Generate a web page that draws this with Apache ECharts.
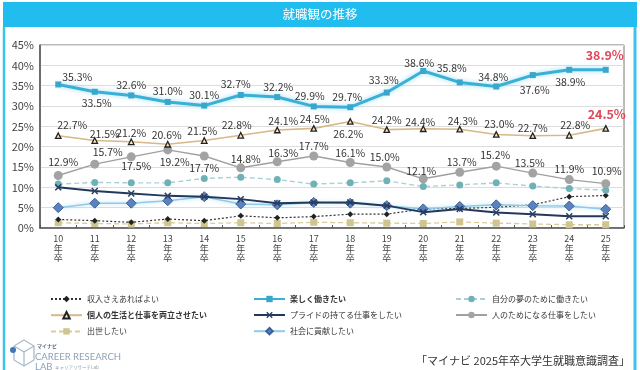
<!DOCTYPE html>
<html><head><meta charset="utf-8">
<script src="https://cdn.jsdelivr.net/npm/echarts@6/dist/echarts.min.js"></script>
<style>html,body{margin:0;padding:0;background:#fff}#c{width:640px;height:370px}</style>
</head><body><div id="c"></div>
<script>
const categories = ['10','11','12','13','14','15','16','17','18','19','20','21','22','23','24','25'];
const enjoy     = [35.3,33.5,32.6,31.0,30.1,32.7,32.2,29.9,29.7,33.3,38.6,35.8,34.8,37.6,38.9,38.9];
const balance   = [22.7,21.5,21.2,20.6,21.5,22.8,24.1,24.5,26.2,24.2,24.4,24.3,23.0,22.7,22.8,24.5];
const forOthers = [12.9,15.7,17.5,19.2,17.7,14.8,16.3,17.7,16.1,15.0,12.1,13.7,15.2,13.5,11.9,10.9];
const dream     = [10.8,11.2,11.1,11.1,12.2,12.5,11.9,10.8,11.1,11.6,10.2,10.6,11.1,10.3,9.7,9.3];
const pride     = [10.0,9.1,8.5,7.9,7.7,7.1,6.1,6.3,6.3,5.5,3.9,4.7,3.8,3.4,2.9,2.9];
const society   = [5.0,6.1,6.1,6.7,7.7,5.9,5.7,6.3,6.1,5.5,4.7,5.3,5.7,5.5,5.4,4.6];
const income    = [2.1,1.8,1.4,2.2,1.8,3.0,2.5,2.8,3.4,3.4,4.7,4.8,5.1,5.7,7.7,8.0];
const promotion = [1.3,1.1,1.0,1.3,1.1,1.3,1.1,1.4,1.3,1.2,1.1,1.5,1.2,1.0,0.8,0.8];
const yTicks = [0,5,10,15,20,25,30,35,40,45];

// label offsets (style only)
const enjoyOff = [[19,-7],[2,11],[0,-10],[0,-11],[0,-11],[-5,-11],[1,-10],[-4,-10],[-3,-10],[-3,-13],[-4,-8],[-8,-14],[-3,-9],[2,15],[1,12],[-1,-15]];
const balanceOff = [[14,-11],[10,-7],[0,-9],[-1,-9],[-2,-10],[-4,-10],[6,-9],[1,-9],[-2,13],[0,-10],[-3,-7],[3,-8],[3,-10],[0,-8],[6,-10],[1,-14]];
const othersOff = [[5,-14],[13,-12],[5,9],[7,12],[0,12],[5,-9],[6,-9],[0,-10],[0,-10],[-2,-10],[-2,-8],[2,-10],[-1,-11],[-3,-10],[0,-11],[1,-13]];

const FONT = "'Noto Sans CJK JP', sans-serif";
function labeled(vals, offs, redLast) {
  return vals.map((v, i) => {
    const hl = redLast && i === vals.length - 1;
    return {
      value: v,
      label: {
        show: true, position: 'inside', offset: offs[i],
        formatter: v.toFixed(1) + '%',
        fontSize: hl ? 12.5 : 10.5, fontWeight: hl ? 'bold' : 'normal',
        color: hl ? '#E0475A' : '#333', fontFamily: FONT
      }
    };
  });
}
const xPath = 'path://M0,1.5L1.5,0L5,3.5L8.5,0L10,1.5L6.5,5L10,8.5L8.5,10L5,6.5L1.5,10L0,8.5L3.5,5Z';

const chart = echarts.init(document.getElementById('c'), null, {renderer: 'canvas'});
chart.setOption({
  animation: false,
  textStyle: {fontFamily: FONT},
  graphic: [
    {type: 'rect', shape: {x: 3, y: 2, width: 634, height: 25}, style: {fill: '#21BDEE'}, z: 0},
    {type: 'text', style: {text: '就職観の推移', x: 320, y: 14.5, textAlign: 'center', textVerticalAlign: 'middle', fill: '#fff', fontSize: 12.5, fontFamily: FONT}},
    {type: 'line', shape: {x1: 4, y1: 27, x2: 4, y2: 370}, style: {stroke: '#3EC3EE', lineWidth: 2.5}},
    {type: 'line', shape: {x1: 635, y1: 27, x2: 635, y2: 370}, style: {stroke: '#3EC3EE', lineWidth: 3}},
    {type: 'text', style: {text: '「マイナビ 2025年卒大学生就職意識調査」', x: 630, y: 361, textAlign: 'right', textVerticalAlign: 'middle', fill: '#333', fontSize: 11, fontFamily: FONT}},
    // logo
    {type: 'polygon', shape: {points: [[24,340],[34,346],[34,360],[24,366],[14,360],[14,346]]}, style: {fill: 'none', stroke: '#A9BCCD', lineWidth: 1.3}},
    {type: 'polyline', shape: {points: [[14,346],[24,352],[34,346]]}, style: {fill: 'none', stroke: '#A9BCCD', lineWidth: 1.3}},
    {type: 'line', shape: {x1: 24, y1: 352, x2: 24, y2: 366}, style: {stroke: '#A9BCCD', lineWidth: 1.3}},
    {type: 'circle', shape: {cx: 13, cy: 350, r: 3}, style: {fill: '#3F78B4'}},
    {type: 'text', style: {text: 'マイナビ', x: 37, y: 346, textVerticalAlign: 'middle', fill: '#5A6B80', fontSize: 5, fontWeight: 'bold', fontFamily: FONT}},
    {type: 'text', style: {text: 'CAREER RESEARCH', x: 35, y: 357, textVerticalAlign: 'middle', fill: '#8FA2B7', fontSize: 9.5, fontFamily: 'Lato, sans-serif'}},
    {type: 'text', style: {text: 'LAB', x: 35, y: 367, textVerticalAlign: 'middle', fill: '#8FA2B7', fontSize: 9.5, fontFamily: 'Lato, sans-serif'}},
    {type: 'text', style: {text: 'キャリアリサーチLab', x: 55, y: 367, textVerticalAlign: 'middle', fill: '#8FA2B7', fontSize: 4.5, fontFamily: FONT}}
  ],
  grid: {left: 40, right: 16, top: 45, bottom: 142, show: true, borderColor: '#777', borderWidth: 1},
  legend: [
    {left: 45, top: 290, orient: 'vertical', itemWidth: 31, itemHeight: 8, itemGap: 8,
     textStyle: {fontSize: 8, color: '#333', fontFamily: FONT},
     data: ['収入さえあればよい', {name: '個人の生活と仕事を両立させたい', textStyle: {fontWeight: 'bold'}}, '出世したい']},
    {left: 248, top: 290, orient: 'vertical', itemWidth: 31, itemHeight: 8, itemGap: 8,
     textStyle: {fontSize: 8, color: '#333', fontFamily: FONT},
     data: [{name: '楽しく働きたい', textStyle: {fontWeight: 'bold'}}, 'プライドの持てる仕事をしたい', '社会に貢献したい']},
    {left: 450, top: 290, orient: 'vertical', itemWidth: 31, itemHeight: 8, itemGap: 8,
     textStyle: {fontSize: 8, color: '#333', fontFamily: FONT},
     data: ['自分の夢のために働きたい', '人のためになる仕事をしたい']}
  ],
  xAxis: {
    type: 'category', data: categories, boundaryGap: true,
    axisLine: {lineStyle: {color: '#555', width: 1.5}},
    axisTick: {show: true, inside: true, length: 3, lineStyle: {color: '#555'}},
    axisLabel: {formatter: v => v + '\n年\n卒', fontSize: 9, lineHeight: 9.5, color: '#444', margin: 6, fontFamily: FONT}
  },
  yAxis: {
    type: 'value', min: yTicks[0], max: yTicks[yTicks.length - 1], interval: 5,
    axisLine: {show: true, lineStyle: {color: '#555', width: 1.5}},
    axisTick: {show: false},
    axisLabel: {formatter: '{value}%', fontSize: 11, color: '#444', margin: 6, fontFamily: FONT},
    splitLine: {lineStyle: {color: '#DDD'}}
  },
  series: [
    {name: '収入さえあればよい', type: 'line', data: income, symbol: 'diamond', symbolSize: 6,
     itemStyle: {color: '#222'}, lineStyle: {color: '#333', width: 1.2, type: [2, 2]}, z: 3},
    {name: '出世したい', type: 'line', data: promotion, symbol: 'rect', symbolSize: 7,
     itemStyle: {color: '#CFC58F'}, lineStyle: {color: '#D8CC9C', width: 1.3, type: [5, 3]}, z: 2},
    {name: '社会に貢献したい', type: 'line', data: society, symbol: 'diamond', symbolSize: 10,
     itemStyle: {color: '#5A82BE', borderColor: '#3D5F95', borderWidth: 1},
     lineStyle: {color: '#8FCBE6', width: 1.5, shadowColor: 'rgba(120,200,235,0.6)', shadowBlur: 4}, z: 4},
    {name: 'プライドの持てる仕事をしたい', type: 'line', data: pride, symbol: xPath, symbolSize: 7,
     itemStyle: {color: '#2A3F63'}, lineStyle: {color: '#24385B', width: 2}, z: 5},
    {name: '自分の夢のために働きたい', type: 'line', data: dream, symbol: 'circle', symbolSize: 7,
     itemStyle: {color: '#6FB2B6'}, lineStyle: {color: '#A9D0D6', width: 1.4, type: [5, 3]}, z: 3},
    {name: '人のためになる仕事をしたい', type: 'line', data: labeled(forOthers, othersOff, false), symbol: 'circle', symbolSize: 9,
     itemStyle: {color: '#A3A3A3'}, lineStyle: {color: '#A0A0A0', width: 1.4}, z: 6},
    {name: '個人の生活と仕事を両立させたい', type: 'line', data: labeled(balance, balanceOff, true), symbol: 'triangle', symbolSize: 5.5,
     itemStyle: {color: '#F3E6C8', borderColor: '#222', borderWidth: 1.3}, lineStyle: {color: '#D7B887', width: 1.6}, z: 7},
    {name: '楽しく働きたい', type: 'line', data: labeled(enjoy, enjoyOff, true), symbol: 'rect', symbolSize: 6,
     itemStyle: {color: '#3AA6CC'}, lineStyle: {color: '#3AB0D6', width: 3, shadowColor: 'rgba(110,205,240,0.7)', shadowBlur: 5}, z: 8}
  ]
});
</script></body></html>
